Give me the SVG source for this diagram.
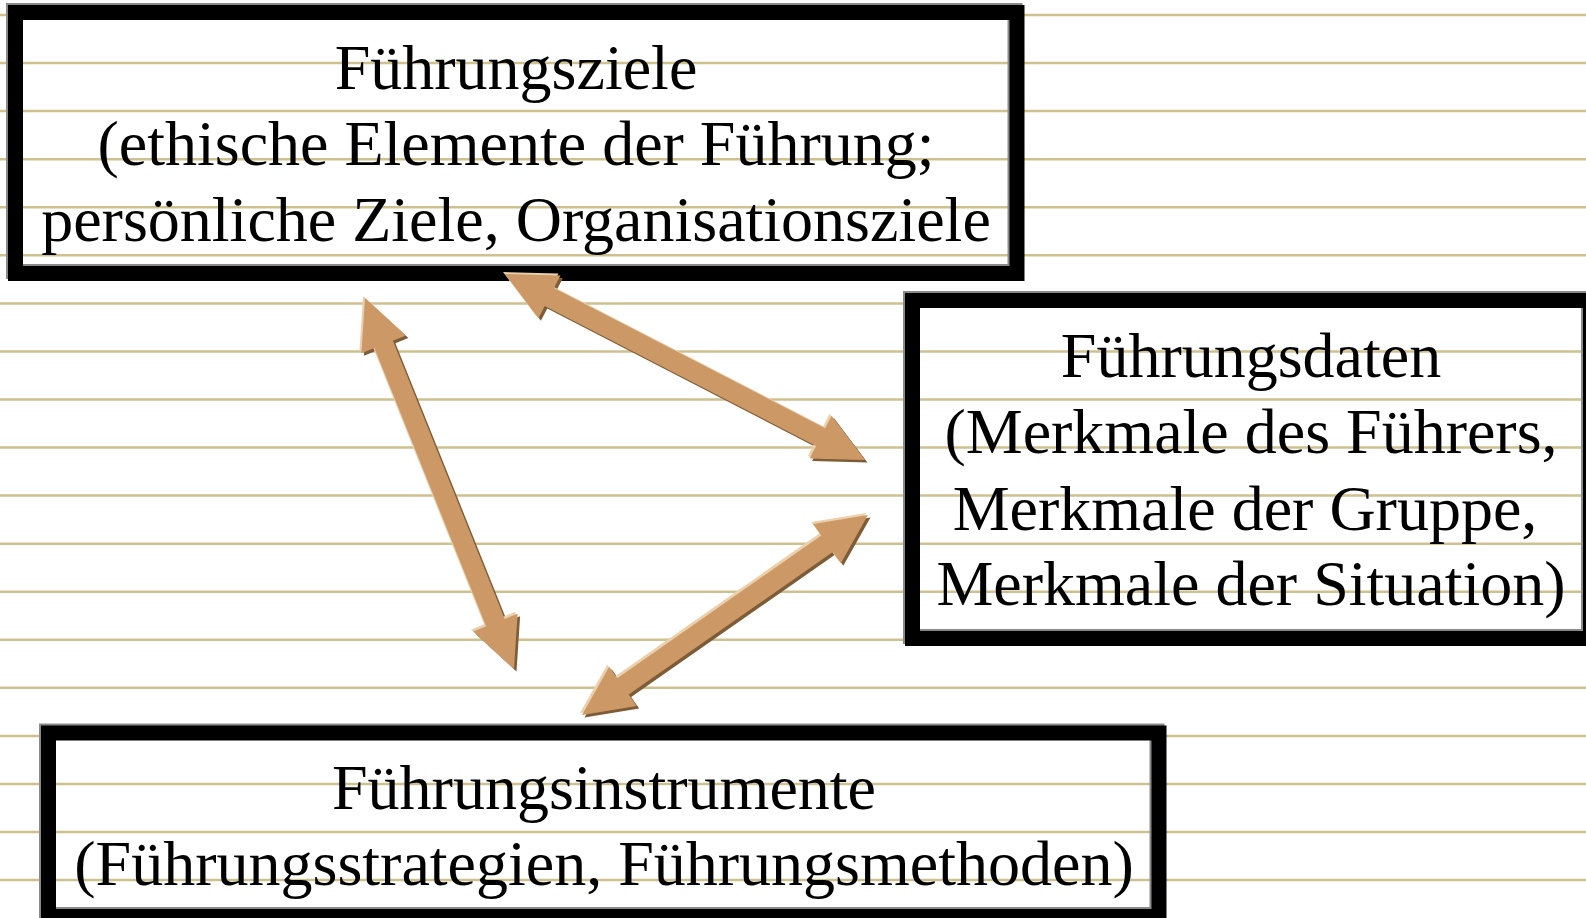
<svg xmlns="http://www.w3.org/2000/svg" xmlns:xlink="http://www.w3.org/1999/xlink" width="1586" height="918" viewBox="0 0 1586 918">
<style>
.rule{stroke:#cfc18f;stroke-width:2.5}
.frame{fill:none;stroke:#000;stroke-width:15}
.rim{fill:none;stroke:#8a8a8a;stroke-width:15}
.lbl{font-family:"Liberation Serif","Times New Roman",serif;font-size:64px;fill:#000;text-anchor:middle}
.arr{fill:#cc9966}
.arrD{fill:#7d5c38}
.arrL{fill:#ecd0ac}
</style>
<defs>
<polygon id="a1" points="505,274 538.4,318.3 544.8,305.9 816,445.9 809.6,458.4 865,460 831.6,415.7 825.2,428.2 554,288.1 560.4,275.6"/>
<polygon id="a2" points="365,298 361.4,353.3 374.4,348.1 486.1,626.3 473.1,631.5 514,669 517.6,613.7 504.7,618.9 392.9,340.7 405.9,335.5"/>
<polygon id="a3" points="582,715 636.7,706 628.7,694.6 832.8,551.9 840.8,563.3 868,515 813.3,524 821.3,535.5 617.3,678.2 609.2,666.7"/>
</defs>
<rect x="0" y="0" width="1586" height="918" fill="#fff"/>
<g id="background">
<line class="rule" x1="0" y1="15" x2="1586" y2="15"/>
<line class="rule" x1="0" y1="63.1" x2="1586" y2="63.1"/>
<line class="rule" x1="0" y1="111.1" x2="1586" y2="111.1"/>
<line class="rule" x1="0" y1="159.2" x2="1586" y2="159.2"/>
<line class="rule" x1="0" y1="207.2" x2="1586" y2="207.2"/>
<line class="rule" x1="0" y1="255.3" x2="1586" y2="255.3"/>
<line class="rule" x1="0" y1="303.4" x2="1586" y2="303.4"/>
<line class="rule" x1="0" y1="351.4" x2="1586" y2="351.4"/>
<line class="rule" x1="0" y1="399.5" x2="1586" y2="399.5"/>
<line class="rule" x1="0" y1="447.5" x2="1586" y2="447.5"/>
<line class="rule" x1="0" y1="495.6" x2="1586" y2="495.6"/>
<line class="rule" x1="0" y1="543.7" x2="1586" y2="543.7"/>
<line class="rule" x1="0" y1="591.7" x2="1586" y2="591.7"/>
<line class="rule" x1="0" y1="639.8" x2="1586" y2="639.8"/>
<line class="rule" x1="0" y1="687.8" x2="1586" y2="687.8"/>
<line class="rule" x1="0" y1="735.9" x2="1586" y2="735.9"/>
<line class="rule" x1="0" y1="784" x2="1586" y2="784"/>
<line class="rule" x1="0" y1="832" x2="1586" y2="832"/>
<line class="rule" x1="0" y1="880.1" x2="1586" y2="880.1"/>
</g>
<g id="node-fuehrungsziele">
<rect class="rim" x="13.5" y="10.5" width="1001.5" height="261"/>
<rect class="frame" x="15.5" y="12.5" width="1001.5" height="261"/>
<text class="lbl" x="516" y="89">Führungsziele</text>
<text class="lbl" x="516" y="165">(ethische Elemente der Führung;</text>
<text class="lbl" x="516" y="241">persönliche Ziele, Organisationsziele</text>
</g>
<g id="node-fuehrungsdaten">
<rect class="rim" x="910.5" y="298.5" width="678" height="338"/>
<rect class="frame" x="912.5" y="300.5" width="678" height="338"/>
<text class="lbl" x="1251" y="377">Führungsdaten</text>
<text class="lbl" x="1251" y="453">(Merkmale des Führers,</text>
<text class="lbl" x="1245" y="530">Merkmale der Gruppe,</text>
<text class="lbl" x="1251" y="605">Merkmale der Situation)</text>
</g>
<g id="node-fuehrungsinstrumente">
<rect class="rim" x="46.5" y="731" width="1110.5" height="183.5"/>
<rect class="frame" x="48.5" y="733" width="1110.5" height="183.5"/>
<text class="lbl" x="604" y="809">Führungsinstrumente</text>
<text class="lbl" x="604" y="885">(Führungsstrategien, Führungsmethoden)</text>
</g>
<g id="connectors">
<use xlink:href="#a1" class="arrD" transform="translate(2.5,2.5)"/>
<use xlink:href="#a1" class="arrL" transform="translate(-2,-2)"/>
<use xlink:href="#a1" class="arr"/>
<use xlink:href="#a2" class="arrD" transform="translate(2.5,2.5)"/>
<use xlink:href="#a2" class="arrL" transform="translate(-2,-2)"/>
<use xlink:href="#a2" class="arr"/>
<use xlink:href="#a3" class="arrD" transform="translate(2.5,2.5)"/>
<use xlink:href="#a3" class="arrL" transform="translate(-2,-2)"/>
<use xlink:href="#a3" class="arr"/>
</g>
</svg>
